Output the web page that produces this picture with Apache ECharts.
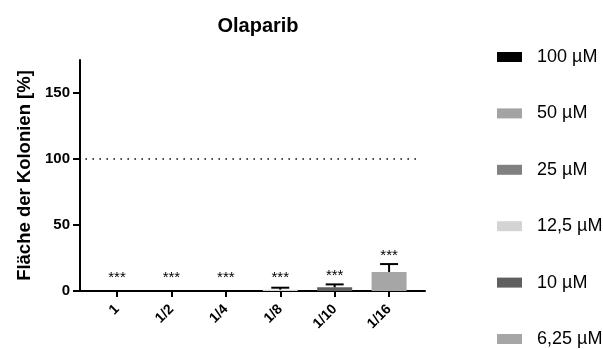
<!DOCTYPE html>
<html>
<head>
<meta charset="utf-8">
<script src="https://cdn.jsdelivr.net/npm/echarts@6/dist/echarts.min.js"></script>
<style>
  html, body { margin: 0; padding: 0; background: #fff; }
  #chart { width: 603px; height: 349px; }
</style>
</head>
<body>
<div id="chart"></div>
<script>
// Dilutions of the 100 µM stock and the resulting colony area (% of control)
const dilutions = ['1', '1/2', '1/4', '1/8', '1/10', '1/16'];
const concentrations = ['100 µM', '50 µM', '25 µM', '12,5 µM', '10 µM', '6,25 µM'];
const areaMean = [0, 0, 0, 1.0, 2.8, 14.4];
const areaSd = [0, 0, 0, 1.5, 2.2, 6.0];
const significance = ['***', '***', '***', '***', '***', '***'];
const barColors = ['#000000', '#a3a3a3', '#808080', '#d4d4d4', '#5f5f5f', '#a6a6a6'];
const controlLevel = 100;
const yTicks = [0, 50, 100, 150];

const X_MIN = -0.68, X_MAX = 5.66;
const FONT = 'Liberation Sans, Arial, sans-serif';

// one bar series per concentration, each sitting on its own dilution
const barSeries = concentrations.map((name, i) => ({
  name: name,
  type: 'bar',
  barWidth: 35,
  barGap: '-100%',
  itemStyle: { color: barColors[i] },
  data: [[i, areaMean[i]]],
  z: 2
}));

// error bars (upper whisker + cap) and significance stars
const errorSeries = {
  type: 'custom',
  name: 'sd',
  z: 5,
  data: dilutions.map((d, i) => [i, areaMean[i], areaMean[i] + areaSd[i]]),
  renderItem: function (params, api) {
    const x = api.value(0);
    const base = api.coord([x, api.value(1)]);
    const top = api.coord([x, api.value(2)]);
    const zero = api.coord([x, 0]);
    const children = [];
    if (api.value(2) > api.value(1)) {
      children.push({
        type: 'line',
        shape: { x1: base[0], y1: base[1], x2: top[0], y2: top[1] },
        style: { stroke: '#000', lineWidth: 2 }
      });
      children.push({
        type: 'line',
        shape: { x1: top[0] - 9, y1: top[1], x2: top[0] + 9, y2: top[1] },
        style: { stroke: '#000', lineWidth: 2 }
      });
    }
    // asterisk glyphs sit high in the em box, so shift the text down a little
    const starY = Math.min(top[1] - 11, zero[1] - 16) + 2.5;
    children.push({
      type: 'text',
      style: {
        x: top[0], y: starY,
        text: significance[params.dataIndex],
        fill: '#000',
        font: '15px ' + FONT,
        align: 'center',
        verticalAlign: 'middle'
      }
    });
    return { type: 'group', children: children };
  }
};

// dotted reference line at the control level
barSeries[0].markLine = {
  silent: true,
  symbol: ['none', 'none'],
  label: { show: false },
  lineStyle: { type: [1.5, 5.5], color: '#000', width: 1.6 },
  data: [[{ coord: [X_MIN + 0.1, controlLevel] }, { coord: [X_MAX - 0.1, controlLevel] }]]
};

const chart = echarts.init(document.getElementById('chart'));
chart.setOption({
  animation: false,
  backgroundColor: '#fff',
  title: {
    text: 'Olaparib',
    left: 253, top: 11,
    textAlign: 'center',
    textStyle: { fontFamily: FONT, fontWeight: 'bold', fontSize: 20, color: '#000' }
  },
  legend: {
    orient: 'vertical',
    left: 497, top: 48,
    height: 420,
    padding: 0,
    itemWidth: 25, itemHeight: 10,
    itemGap: 38.4,
    icon: 'rect',
    data: concentrations,
    textStyle: { fontFamily: FONT, fontSize: 18, color: '#000', padding: [0, 0, 0, 10] }
  },
  grid: { left: 80, right: 178, top: 60, bottom: 58 },
  xAxis: {
    type: 'value',
    min: X_MIN, max: X_MAX,
    splitLine: { show: false },
    axisLine: { show: true, onZero: false, lineStyle: { color: '#000', width: 2 } },
    axisTick: { show: true, customValues: dilutions.map((d, i) => i), length: 6, lineStyle: { color: '#000', width: 2 } },
    axisLabel: {
      customValues: dilutions.map((d, i) => i),
      formatter: v => dilutions[Math.round(v)],
      rotate: 45,
      margin: 16,
      fontFamily: FONT, fontWeight: 'bold', fontSize: 14, color: '#000'
    }
  },
  yAxis: {
    type: 'value',
    min: 0, max: 175,
    name: 'Fläche der Kolonien [%]',
    nameLocation: 'middle',
    nameGap: 45,
    nameTextStyle: { fontFamily: FONT, fontWeight: 'bold', fontSize: 18.5, color: '#000' },
    splitLine: { show: false },
    axisLine: { show: true, onZero: false, lineStyle: { color: '#000', width: 2 } },
    axisTick: { show: true, customValues: yTicks, length: 7, lineStyle: { color: '#000', width: 2 } },
    axisLabel: { customValues: yTicks, margin: 10, fontFamily: FONT, fontWeight: 'bold', fontSize: 15, color: '#000' }
  },
  series: barSeries.concat([errorSeries])
});
</script>
</body>
</html>
